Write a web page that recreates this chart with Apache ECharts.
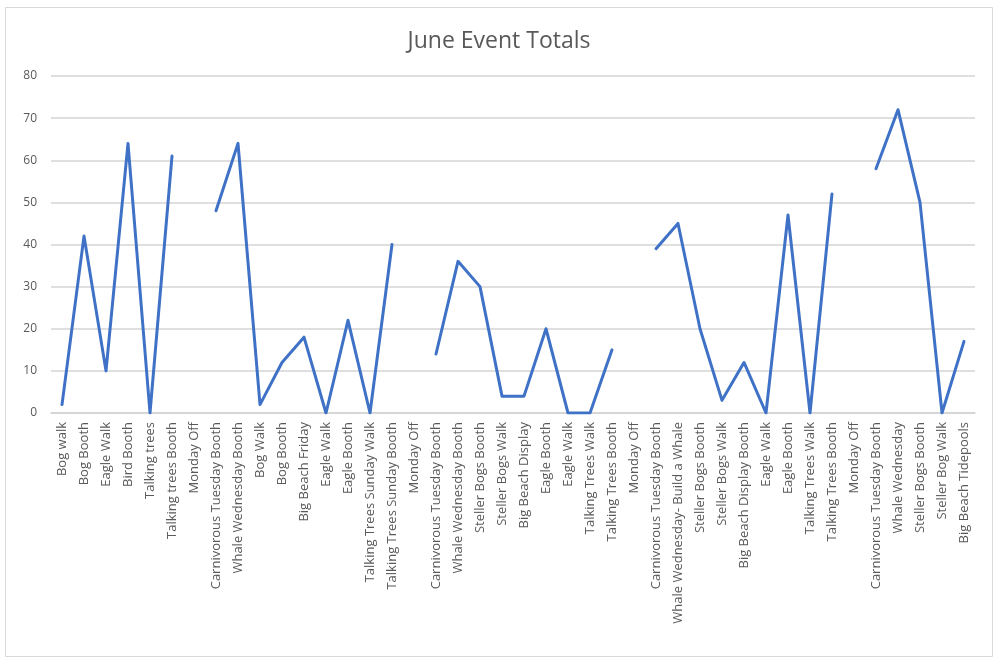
<!DOCTYPE html>
<html>
<head>
    <meta charset="utf-8">
    <title>June Event Totals</title>
    <script src="https://cdn.jsdelivr.net/npm/echarts@6/dist/echarts.min.js"></script>
    <style>
        html, body { margin: 0; padding: 0; background: #fff; }
        #main { width: 998px; height: 660px; }
    </style>
</head>
<body>
    <div id="main"></div>
    <script>
        var events = [
            'Bog walk', 'Bog Booth', 'Eagle Walk', 'Bird Booth', 'Talking trees',
            'Talking trees Booth', 'Monday Off', 'Carnivorous Tuesday Booth', 'Whale Wednesday Booth', 'Bog Walk',
            'Bog Booth', 'Big Beach Friday', 'Eagle Walk', 'Eagle Booth', 'Talking Trees Sunday Walk',
            'Talking Trees Sunday Booth', 'Monday Off', 'Carnivorous Tuesday Booth', 'Whale Wednesday Booth', 'Steller Bogs Booth',
            'Steller Bogs Walk', 'Big Beach Display', 'Eagle Booth', 'Eagle Walk', 'Talking Trees Walk',
            'Talking Trees Booth', 'Monday Off', 'Carnivorous Tuesday Booth', 'Whale Wednesday- Build a Whale', 'Steller Bogs Booth',
            'Steller Bogs Walk', 'Big Beach Display Booth', 'Eagle Walk', 'Eagle Booth', 'Talking Trees Walk',
            'Talking Trees Booth', 'Monday Off', 'Carnivorous Tuesday Booth', 'Whale Wednesday', 'Steller Bogs Booth',
            'Steller Bog Walk', 'Big Beach Tidepools'
        ];

        var totals = [
            2, 42, 10, 64, 0,
            61, null, 48, 64, 2,
            12, 18, 0, 22, 0,
            40, null, 14, 36, 30,
            4, 4, 20, 0, 0,
            15, null, 39, 45, 20,
            3, 12, 0, 47, 0,
            52, null, 58, 72, 50,
            0, 17
        ];

        var myChart = echarts.init(document.getElementById('main'));

        var option = {
            backgroundColor: '#fff',
            title: {
                text: 'June Event Totals',
                left: 'center',
                top: 25,
                textStyle: {
                    fontFamily: 'Open Sans',
                    fontSize: 23,
                    fontWeight: 'normal',
                    color: '#595959'
                }
            },
            graphic: [{
                type: 'rect',
                shape: { x: 5.5, y: 7.5, width: 987, height: 649 },
                style: { fill: 'none', stroke: '#d9d9d9', lineWidth: 1 },
                silent: true
            }],
            grid: {
                left: 51,
                right: 23,
                top: 76,
                bottom: 247
            },
            xAxis: {
                type: 'category',
                data: events,
                boundaryGap: true,
                axisTick: { show: false },
                axisLine: { lineStyle: { color: '#d4d4d4', width: 1.5 } },
                axisLabel: {
                    interval: 0,
                    rotate: 90,
                    margin: 9,
                    fontFamily: 'Open Sans',
                    fontSize: 13,
                    color: '#595959'
                }
            },
            yAxis: {
                type: 'value',
                min: 0,
                max: 80,
                interval: 10,
                axisLine: { show: false },
                axisTick: { show: false },
                axisLabel: {
                    margin: 14,
                    fontFamily: 'Open Sans',
                    fontSize: 12,
                    color: '#595959'
                },
                splitLine: { lineStyle: { color: '#d4d4d4', width: 1.5 } }
            },
            series: [{
                name: 'Totals',
                type: 'line',
                data: totals,
                connectNulls: false,
                showSymbol: false,
                symbol: 'none',
                lineStyle: { color: '#3f72c6', width: 3, join: 'round', cap: 'round' },
                itemStyle: { color: '#3f72c6' },
                animation: false
            }],
            animation: false
        };

        myChart.setOption(option);

        window.onresize = function () {
            myChart.resize();
        };
    </script>
</body>
</html>
